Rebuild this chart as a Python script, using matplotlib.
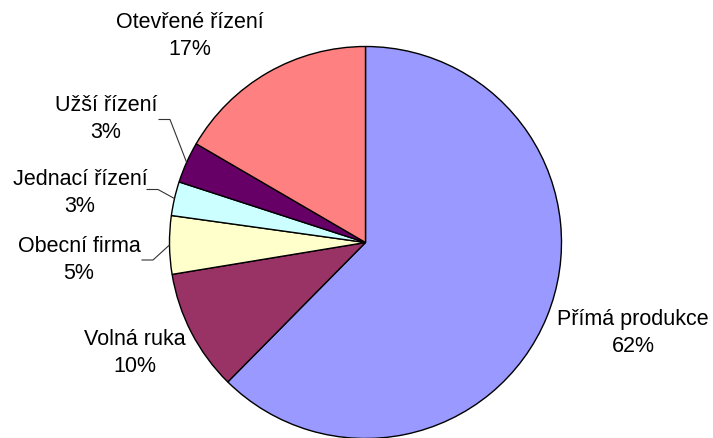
import matplotlib
matplotlib.use("Agg")
import matplotlib.pyplot as plt
import numpy as np

plt.rcParams["font.family"] = ["Liberation Sans", "DejaVu Sans"]

# slices clockwise from 12 o'clock
categories = ["Přímá produkce", "Volná ruka", "Obecní firma",
              "Jednací řízení", "Užší řízení", "Otevřené řízení"]
shares = [62.4, 10.0, 4.8, 2.8, 3.4, 16.6]
colors = ["#9999FF", "#993366", "#FFFFCC", "#CCFFFF", "#660066", "#FF8080"]

W, H = 713, 439
CX, CY, R = 365.5, 243.5, 196.0   # pie centre / radius in image pixels (y down)

# label block centres (image px) and leader start points (None = no leader)
label_pos = [(633, 333), (135, 353), (79, 260), (80, 193), (106, 119), (190, 36)]
leader_start = [None, None, (141.5, 261), (146.5, 190.5), (158.5, 120.5), None]


def fy(y):
    return H - y


fig = plt.figure(figsize=(W / 100, H / 100), dpi=100)
ax = fig.add_axes([0, 0, 1, 1])

wedges, _ = ax.pie(shares, colors=colors, startangle=90, counterclock=False,
                   center=(CX, fy(CY)), radius=R, normalize=True,
                   wedgeprops=dict(edgecolor="black", linewidth=1.0))
# pie() sets its own limits, so fix the pixel frame afterwards
ax.set_xlim(0, W)
ax.set_ylim(0, H)
ax.set_aspect("equal")
ax.axis("off")

total = sum(shares)
cum = 0.0
for name, v, (lx, ly), ls in zip(categories, shares, label_pos, leader_start):
    mid = 90 - 360 * (cum + v / 2) / total
    cum += v
    ax.text(lx, fy(ly), f"{name}\n{round(v / total * 100):.0f}%",
            ha="center", va="center", fontsize=15.5, linespacing=1.42,
            color="black")
    if ls is not None:
        ex = CX + R * np.cos(np.radians(mid))
        ey = fy(CY) + R * np.sin(np.radians(mid))
        ax.plot([ls[0], ls[0] + 11.5, ex], [fy(ls[1]), fy(ls[1]), ey],
                color="#333333", linewidth=0.8, solid_capstyle="butt")

fig.savefig("out.png", dpi=100)
